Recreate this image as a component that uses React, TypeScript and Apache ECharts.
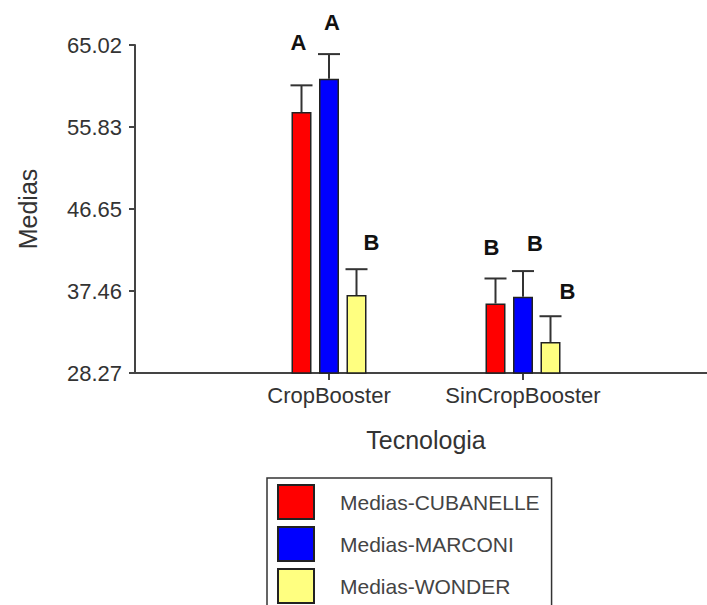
import React, { useEffect, useRef } from "react";
import * as echarts from "echarts";

const categories = ["CropBooster", "SinCropBooster"];
const seriesNames = ["Medias-CUBANELLE", "Medias-MARCONI", "Medias-WONDER"];
const cubanelle = [57.5, 36.05];
const cubanelleErr = [3.0, 2.81];
const marconi = [61.25, 36.8];
const marconiErr = [2.75, 2.89];
const wonder = [37.0, 31.75];
const wonderErr = [2.9, 2.88];
const cubanelleLetters = ["A", "B"];
const marconiLetters = ["A", "B"];
const wonderLetters = ["B", "B"];
const yTickLabels = ["28.27", "37.46", "46.65", "55.83", "65.02"];

// letter label offsets (px) relative to the top of each error bar
const letterOffsets = [
  [[-3, -43], [-4, -31]],
  [[3, -32], [12, -28]],
  [[15, -27], [17, -25]],
];

const colors = ["#ff0000", "#0000ff", "#ffff80"];
const FONT = "'Liberation Sans', Arial, sans-serif";
const BAR_W = 20;
const BAR_STEP = 27.5;

export default function App() {
  const ref = useRef<HTMLDivElement>(null);
  useEffect(() => {
    if (!ref.current) return;
    const chart = echarts.init(ref.current, null, { renderer: "svg" });
    const axisCats = ["", ...categories, ""];
    const means = [cubanelle, marconi, wonder];
    const errs = [cubanelleErr, marconiErr, wonderErr];
    const letters = [cubanelleLetters, marconiLetters, wonderLetters];
    const yMin = parseFloat(yTickLabels[0]);
    const yMax = parseFloat(yTickLabels[yTickLabels.length - 1]);
    const yInterval = (yMax - yMin) / (yTickLabels.length - 1);

    const barSeries = means.map((m, k) => ({
      type: "bar",
      name: seriesNames[k],
      data: [null, ...m, null],
      barWidth: BAR_W,
      barGap: "37.5%",
      itemStyle: { color: colors[k], borderColor: "#222", borderWidth: 1.5 },
      z: 2,
    }));

    const errSeries = means.map((m, k) => ({
      type: "custom",
      name: seriesNames[k] + "-err",
      data: m.map((v, i) => [i + 1, v, errs[k][i]]),
      z: 5,
      renderItem: (params: any, api: any) => {
        const cat = api.value(0);
        const v = api.value(1);
        const e = api.value(2);
        const base = api.coord([cat, v]);
        const top = api.coord([cat, v + e]);
        const x = base[0] + (k - 1) * BAR_STEP;
        const off = letterOffsets[k][params.dataIndex];
        return {
          type: "group",
          children: [
            {
              type: "line",
              shape: { x1: x, y1: base[1], x2: x, y2: top[1] },
              style: { stroke: "#333", lineWidth: 2 },
            },
            {
              type: "line",
              shape: { x1: x - 11, y1: top[1], x2: x + 11, y2: top[1] },
              style: { stroke: "#333", lineWidth: 2 },
            },
            {
              type: "text",
              x: x + off[0],
              y: top[1] + off[1],
              style: {
                text: letters[k][params.dataIndex],
                fill: "#111",
                font: `bold 22px ${FONT}`,
                align: "center",
                verticalAlign: "middle",
              },
            },
          ],
        };
      },
    }));

    chart.setOption({
      animation: false,
      backgroundColor: "#fff",
      grid: {
        left: 135,
        top: 45,
        width: 582,
        height: 328,
        outerBoundsMode: "none",
        containLabel: false,
      },
      legend: {
        data: seriesNames,
        orient: "vertical",
        left: 267,
        top: 478,
        height: 160,
        padding: [6, 12, 14, 10],
        borderColor: "#333",
        borderWidth: 1.5,
        itemWidth: 36,
        itemHeight: 34,
        itemGap: 6,
        icon: "rect",
        textStyle: {
          fontSize: 21,
          color: "#444",
          fontFamily: FONT,
          padding: [0, 0, 0, 21],
        },
      },
      xAxis: {
        type: "category",
        data: axisCats,
        boundaryGap: false,
        name: "Tecnologia",
        nameLocation: "middle",
        nameGap: 54,
        nameTextStyle: { fontSize: 25, color: "#333", fontFamily: FONT },
        axisLine: { lineStyle: { color: "#444", width: 2 } },
        axisTick: {
          show: true,
          length: 7,
          interval: (idx: number) => idx === 1 || idx === 2,
          lineStyle: { color: "#444", width: 2 },
        },
        axisLabel: {
          interval: 0,
          margin: 11,
          fontSize: 22,
          color: "#333",
          fontFamily: FONT,
        },
        splitLine: { show: false },
      },
      yAxis: {
        type: "value",
        min: yMin,
        max: yMax,
        interval: yInterval,
        name: "Medias",
        nameLocation: "middle",
        nameRotate: 90,
        nameGap: 95,
        nameTextStyle: { fontSize: 25, color: "#333", fontFamily: FONT },
        axisLine: { show: true, lineStyle: { color: "#444", width: 2 } },
        axisTick: { show: true, length: 6, lineStyle: { color: "#444", width: 2 } },
        axisLabel: {
          margin: 13,
          fontSize: 22,
          color: "#333",
          fontFamily: FONT,
          formatter: (val: number) => {
            let best = yTickLabels[0];
            let d = Infinity;
            for (const t of yTickLabels) {
              const dd = Math.abs(parseFloat(t) - val);
              if (dd < d) {
                d = dd;
                best = t;
              }
            }
            return best;
          },
        },
        splitLine: { show: false },
      },
      series: [...barSeries, ...errSeries],
    });
    return () => chart.dispose();
  }, []);
  return (
    <div
      ref={ref}
      style={{ position: "absolute", left: 0, top: 0, width: 707, height: 605 }}
    />
  );
}
